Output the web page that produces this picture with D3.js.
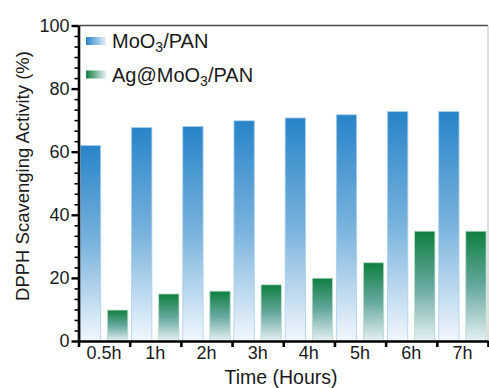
<!DOCTYPE html>
<html>
<head>
<meta charset="utf-8">
<script src="https://cdn.jsdelivr.net/npm/d3@7"></script>
<style>
  body { margin: 0; background: #fff; }
  svg { display: block; font-family: Arial, "Liberation Sans", sans-serif; }
</style>
</head>
<body>
<svg id="chart" width="489" height="388"></svg>
<script>
// data
var categories = ["0.5h", "1h", "2h", "3h", "4h", "5h", "6h", "7h"];
var moo3Pan = [62, 67.7, 68, 69.8, 70.7, 71.7, 72.7, 72.7];
var agMoo3Pan = [9.8, 14.9, 15.8, 17.8, 19.9, 24.8, 34.8, 34.8];
var seriesNames = ["MoO3/PAN", "Ag@MoO3/PAN"];
var yMajorTicks = [0, 20, 40, 60, 80, 100];

var svg = d3.select("#chart"),
    plotLeft = 78.5, plotRight = 488, plotTop = 25.5, plotBottom = 341;

var x0 = d3.scaleBand().domain(categories).range([plotLeft, plotRight]).padding(0);
var x1 = d3.scaleBand().domain(seriesNames).range([0, x0.bandwidth()])
          .paddingInner(0.25).paddingOuter(0.07);
var y = d3.scaleLinear().domain([0, 100]).range([plotBottom, plotTop]);

// gradients
var defs = svg.append("defs");
function grad(id, horiz, stops) {
  var g = defs.append("linearGradient").attr("id", id)
    .attr("x1", 0).attr("y1", 0).attr("x2", horiz ? 1 : 0).attr("y2", horiz ? 0 : 1);
  stops.forEach(function (s) { g.append("stop").attr("offset", s[0]).attr("stop-color", s[1]); });
}
grad("blueV", false, [[0, "#2884c8"], [0.5, "#7ab3dd"], [1, "#f2f7fc"]]);
grad("greenV", false, [[0, "#0f7f3f"], [0.5, "#66a89f"], [1, "#e6f0f5"]]);
grad("blueH", true, [[0, "#2884c8"], [1, "#e8f1fa"]]);
grad("greenH", true, [[0, "#0f7f3f"], [1, "#e6f0f5"]]);

var rows = categories.map(function (c, i) {
  return { cat: c, vals: [moo3Pan[i], agMoo3Pan[i]] };
});
var fills = ["url(#blueV)", "url(#greenV)"];
var strokes = ["#a9d0ee", "#b7dcc6"];

var groups = svg.selectAll(".grp").data(rows).enter().append("g")
  .attr("class", "grp")
  .attr("transform", function (d) { return "translate(" + x0(d.cat) + ",0)"; });

groups.selectAll("rect")
  .data(function (d) { return d.vals.map(function (v, k) { return { s: seriesNames[k], v: v, k: k }; }); })
  .enter().append("rect")
  .attr("x", function (d) { return x1(d.s); })
  .attr("width", x1.bandwidth())
  .attr("y", function (d) { return y(d.v); })
  .attr("height", function (d) { return y(0) - y(d.v); })
  .attr("fill", function (d) { return fills[d.k]; })
  .attr("stroke", function (d) { return strokes[d.k]; })
  .attr("stroke-width", 0.8);

// frame top and right
svg.append("line").attr("x1", plotLeft).attr("x2", plotRight).attr("y1", plotTop).attr("y2", plotTop)
  .attr("stroke", "#4a4a4a").attr("stroke-width", 1.6);
svg.append("line").attr("x1", plotRight).attr("x2", plotRight).attr("y1", plotTop).attr("y2", plotBottom)
  .attr("stroke", "#bbbbbb").attr("stroke-width", 1);

// y axis
var minorTicks = d3.range(0, 100.01, 20 / 6).filter(function (v) {
  return yMajorTicks.indexOf(Math.round(v * 1000) / 1000) < 0;
});
svg.append("g").attr("transform", "translate(" + plotLeft + ",0)")
  .call(d3.axisLeft(y).tickValues(minorTicks).tickSize(4).tickFormat(""))
  .call(function (g) { g.select(".domain").remove(); })
  .selectAll("line").attr("stroke", "#000").attr("stroke-width", 1.6);

var yAxis = svg.append("g").attr("transform", "translate(" + plotLeft + ",0)")
  .call(d3.axisLeft(y).tickValues(yMajorTicks).tickSize(7).tickSizeOuter(0).tickPadding(2));
yAxis.select(".domain").attr("stroke", "#000").attr("stroke-width", 2.6);
yAxis.selectAll(".tick line").attr("stroke", "#000").attr("stroke-width", 2.4);
yAxis.selectAll("text").attr("font-size", 18).attr("fill", "#1a1a1a")
  .attr("font-family", "Arial, 'Liberation Sans', sans-serif");

// x axis: ticks at band edges, labels at centres
var xEdge = d3.scaleLinear().domain([0, categories.length]).range([plotLeft, plotRight]);
var xTicks = svg.append("g").attr("transform", "translate(0," + plotBottom + ")")
  .call(d3.axisBottom(xEdge).tickValues(d3.range(0, categories.length + 1)).tickSize(6).tickSizeOuter(0).tickFormat(""));
xTicks.select(".domain").attr("stroke", "#000").attr("stroke-width", 2.6);
xTicks.selectAll(".tick line").attr("stroke", "#000").attr("stroke-width", 2.6);

var xLabels = svg.append("g").attr("transform", "translate(0," + plotBottom + ")")
  .call(d3.axisBottom(x0).tickSize(0).tickPadding(5));
xLabels.select(".domain").remove();
xLabels.selectAll("text").attr("font-size", 18).attr("fill", "#1a1a1a")
  .attr("font-family", "Arial, 'Liberation Sans', sans-serif");

// axis titles
svg.append("text").attr("x", 281).attr("y", 384).attr("text-anchor", "middle")
  .attr("font-size", 19.5).attr("fill", "#1a1a1a").text("Time (Hours)");
svg.append("text").attr("transform", "translate(29,176) rotate(-90)")
  .attr("text-anchor", "middle").attr("font-size", 18.5).attr("fill", "#1a1a1a")
  .text("DPPH Scavenging Activity (%)");

// legend
var legend = svg.append("g");
var legFill = ["url(#blueH)", "url(#greenH)"];
seriesNames.forEach(function (name, i) {
  var ly = 41 + i * 33.5;
  legend.append("rect").attr("x", 86).attr("y", ly - 4).attr("width", 20).attr("height", 8)
    .attr("fill", legFill[i]);
  var t = legend.append("text").attr("x", 112).attr("y", ly + 7)
    .attr("font-size", 20).attr("fill", "#1a1a1a");
  var parts = name.split("3");
  t.append("tspan").text(parts[0]);
  t.append("tspan").attr("font-size", 14).attr("dy", 4).text("3");
  t.append("tspan").attr("dy", -4).text(parts[1]);
});
</script>
</body>
</html>
